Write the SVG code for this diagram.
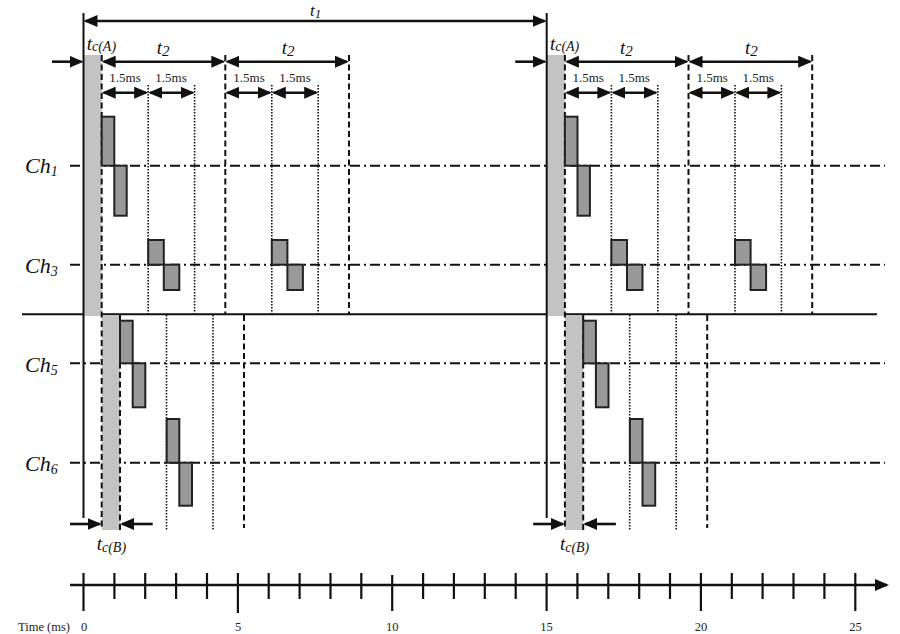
<svg xmlns="http://www.w3.org/2000/svg" xmlns:xlink="http://www.w3.org/1999/xlink" width="900" height="634" viewBox="0 0 900 634">
<style>
.solid{stroke:#111;stroke-width:2;fill:none}
.dash{stroke:#111;stroke-width:2;stroke-dasharray:6 3.5;fill:none}
.dot{stroke:#111;stroke-width:1.6;stroke-dasharray:1.5 1.5;fill:none}
.dd{stroke:#111;stroke-width:2;stroke-dasharray:10 4 2 4;fill:none}
.band{fill:#c3c3c3}
.pulse{fill:#999;stroke:#222;stroke-width:2}
.arr{stroke:#111;stroke-width:2.6;fill:none;marker-end:url(#ah)}
.arr2{stroke:#111;stroke-width:2.6;fill:none;marker-start:url(#ah);marker-end:url(#ah)}
.lbl{font-family:"Liberation Serif","Times New Roman",serif;font-style:italic;fill:#111}
.ms{font-family:"Liberation Serif","Times New Roman",serif;font-size:13px;fill:#222;text-anchor:middle}
.ax{font-family:"Liberation Serif","Times New Roman",serif;font-size:12.5px;fill:#222}
.tick{stroke:#111;stroke-width:2.2}
</style>
<defs>
<marker id="ah" viewBox="0 0 14 12" refX="12" refY="6" markerWidth="14" markerHeight="12" markerUnits="userSpaceOnUse" orient="auto-start-reverse"><path d="M0,0 L14,6 L0,12 Z" fill="#111"/></marker>
<g id="period">
<rect class="band" x="83.5" y="55" width="18.2" height="261"/>
<rect class="band" x="101.7" y="315" width="18.3" height="215"/>
<line class="solid" x1="83.5" y1="13" x2="83.5" y2="518"/>
<line class="dash" x1="101.7" y1="55" x2="101.7" y2="530"/>
<line class="dash" x1="225.3" y1="55" x2="225.3" y2="314"/>
<line class="dash" x1="349" y1="55" x2="349" y2="314"/>
<line class="dot" x1="148.2" y1="85" x2="148.2" y2="314"/>
<line class="dot" x1="194.6" y1="85" x2="194.6" y2="314"/>
<line class="dot" x1="271.8" y1="85" x2="271.8" y2="314"/>
<line class="dot" x1="318.2" y1="85" x2="318.2" y2="314"/>
<line class="dash" x1="120" y1="315" x2="120" y2="530"/>
<line class="dot" x1="166.5" y1="315" x2="166.5" y2="530"/>
<line class="dot" x1="213" y1="315" x2="213" y2="530"/>
<line class="dash" x1="244" y1="315" x2="244" y2="528"/>
<rect class="pulse" x="101.7" y="116.7" width="12.6" height="49"/>
<rect class="pulse" x="114.3" y="165.7" width="12.4" height="50"/>
<rect class="pulse" x="148.2" y="240" width="15.6" height="24.7"/>
<rect class="pulse" x="163.8" y="264.7" width="15.5" height="25.3"/>
<rect class="pulse" x="271.8" y="240" width="15.6" height="24.7"/>
<rect class="pulse" x="287.4" y="264.7" width="15.5" height="25.3"/>
<rect class="pulse" x="120" y="320.7" width="12.7" height="42.6"/>
<rect class="pulse" x="132.7" y="363.3" width="12.6" height="44"/>
<rect class="pulse" x="166.7" y="419" width="12.6" height="43.7"/>
<rect class="pulse" x="179.3" y="462.7" width="12.7" height="43"/>
<line class="arr" x1="52" y1="61.7" x2="81.5" y2="61.7"/>
<line class="arr2" x1="103.7" y1="61.7" x2="223.3" y2="61.7"/>
<line class="arr2" x1="227.3" y1="61.7" x2="347" y2="61.7"/>
<line class="arr2" x1="103.7" y1="92.7" x2="146.2" y2="92.7"/>
<line class="arr2" x1="150.2" y1="92.7" x2="192.6" y2="92.7"/>
<line class="arr2" x1="227.3" y1="92.7" x2="269.8" y2="92.7"/>
<line class="arr2" x1="273.8" y1="92.7" x2="316.2" y2="92.7"/>
<line class="arr" x1="70" y1="524" x2="99.7" y2="524"/>
<line class="arr" x1="152.7" y1="524" x2="122" y2="524"/>
<text class="lbl" x="86.7" y="50" font-size="19">t<tspan font-size="14" dy="1">c(A)</tspan></text>
<text class="lbl" x="156.7" y="53.5" font-size="19">t<tspan font-size="15" dy="2.5">2</tspan></text>
<text class="lbl" x="281.7" y="53.5" font-size="19">t<tspan font-size="15" dy="2.5">2</tspan></text>
<text class="ms" x="125" y="81.7">1.5ms</text>
<text class="ms" x="171" y="81.7">1.5ms</text>
<text class="ms" x="249" y="81.7">1.5ms</text>
<text class="ms" x="295" y="81.7">1.5ms</text>
<text class="lbl" x="96.7" y="550" font-size="19">t<tspan font-size="14" dy="2">c(B)</tspan></text>
</g>
</defs>
<g id="channel-lines">
<line class="dd" x1="70" y1="165.7" x2="885" y2="165.7"/>
<line class="dd" x1="70" y1="264.7" x2="885" y2="264.7"/>
<line class="dd" x1="70" y1="363.3" x2="885" y2="363.3"/>
<line class="dd" x1="70" y1="462.7" x2="885" y2="462.7"/>
<line class="solid" x1="22" y1="314.3" x2="877" y2="314.3"/>
</g>
<g id="channel-labels">
<text class="lbl" x="25" y="173.3" font-size="22">Ch<tspan font-size="14" dy="3">1</tspan></text>
<text class="lbl" x="25" y="272.7" font-size="22">Ch<tspan font-size="14" dy="3">3</tspan></text>
<text class="lbl" x="25" y="371.7" font-size="22">Ch<tspan font-size="14" dy="3">5</tspan></text>
<text class="lbl" x="25" y="470.7" font-size="22">Ch<tspan font-size="14" dy="3">6</tspan></text>
</g>
<g id="period-1"><use xlink:href="#period" href="#period"/></g>
<g id="period-2"><use xlink:href="#period" href="#period" transform="translate(463.2,0)"/></g>
<g id="t1">
<line class="arr2" x1="85.5" y1="21" x2="544.7" y2="21"/>
<text class="lbl" x="310" y="16" font-size="17">t<tspan font-size="13" dy="1.5">1</tspan></text>
</g>
<g id="time-axis">
<line class="arr" x1="70" y1="585" x2="887" y2="585"/>
<g class="tick">
<line x1="83.5" y1="573" x2="83.5" y2="611"/>
<line x1="114.4" y1="573" x2="114.4" y2="599"/>
<line x1="145.2" y1="573" x2="145.2" y2="599"/>
<line x1="176.1" y1="573" x2="176.1" y2="599"/>
<line x1="207" y1="573" x2="207" y2="599"/>
<line x1="237.9" y1="573" x2="237.9" y2="613"/>
<line x1="268.7" y1="573" x2="268.7" y2="599"/>
<line x1="299.6" y1="573" x2="299.6" y2="599"/>
<line x1="330.5" y1="573" x2="330.5" y2="599"/>
<line x1="361.3" y1="573" x2="361.3" y2="599"/>
<line x1="392.2" y1="575" x2="392.2" y2="611"/>
<line x1="423.1" y1="573" x2="423.1" y2="599"/>
<line x1="453.9" y1="573" x2="453.9" y2="599"/>
<line x1="484.8" y1="573" x2="484.8" y2="599"/>
<line x1="515.7" y1="573" x2="515.7" y2="599"/>
<line x1="546.6" y1="573" x2="546.6" y2="611"/>
<line x1="577.4" y1="573" x2="577.4" y2="599"/>
<line x1="608.3" y1="573" x2="608.3" y2="599"/>
<line x1="639.2" y1="573" x2="639.2" y2="599"/>
<line x1="670" y1="573" x2="670" y2="599"/>
<line x1="700.9" y1="573" x2="700.9" y2="611"/>
<line x1="731.8" y1="573" x2="731.8" y2="599"/>
<line x1="762.6" y1="573" x2="762.6" y2="599"/>
<line x1="793.5" y1="573" x2="793.5" y2="599"/>
<line x1="824.4" y1="573" x2="824.4" y2="599"/>
<line x1="855.3" y1="573" x2="855.3" y2="611"/>
</g>
<text class="ax" x="18" y="631">Time (ms)</text>
<text class="ax" x="84" y="631" text-anchor="middle">0</text>
<text class="ax" x="238" y="631" text-anchor="middle">5</text>
<text class="ax" x="392.2" y="631" text-anchor="middle">10</text>
<text class="ax" x="546.6" y="631" text-anchor="middle">15</text>
<text class="ax" x="701" y="631" text-anchor="middle">20</text>
<text class="ax" x="855.5" y="631" text-anchor="middle">25</text>
</g>
</svg>
